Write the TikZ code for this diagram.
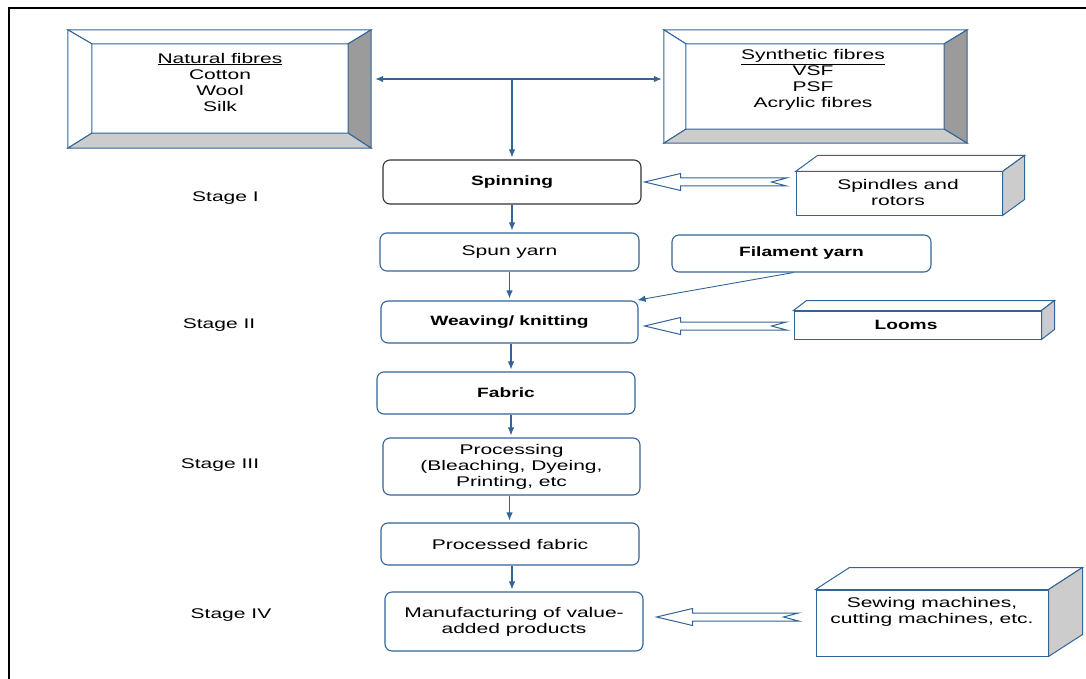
\documentclass[tikz,border=0pt]{standalone}
\usepackage{fontspec}
\usetikzlibrary{arrows.meta,calc}
\newfontfamily\regsans{Liberation Sans}[FakeStretch=1.5]
\newfontfamily\boldsans{Liberation Sans}[FakeStretch=1.42]
\definecolor{bl}{RGB}{50,100,150}
\definecolor{sidegray}{RGB}{204,204,204}
\definecolor{bevelgray}{RGB}{155,155,155}
\newcommand{\bevel}[2]{%
 \filldraw[bevelface, fill=white] (#1.north west) -- (#1.north east) -- (#2.north east) -- (#2.north west) -- cycle;
 \filldraw[bevelface, fill=white] (#1.north west) -- (#2.north west) -- (#2.south west) -- (#1.south west) -- cycle;
 \filldraw[bevelface, fill=bevelgray] (#1.north east) -- (#1.south east) -- (#2.south east) -- (#2.north east) -- cycle;
 \filldraw[bevelface, fill=sidegray] (#1.south west) -- (#2.south west) -- (#2.south east) -- (#1.south east) -- cycle;}
\newcommand{\cuboid}[3]{%
 \filldraw[bevelface, fill=white] (#1.north west) -- ($(#1.north west)+(#2,#3)$) -- ($(#1.north east)+(#2,#3)$) -- (#1.north east) -- cycle;
 \filldraw[bevelface, fill=sidegray] (#1.north east) -- ($(#1.north east)+(#2,#3)$) -- ($(#1.south east)+(#2,#3)$) -- (#1.south east) -- cycle;}
\newcommand{\hollowarrow}[2]{%
 \filldraw[fatarrow] (#1) -- ($(#1)+(36,-8.5)$) -- ($(#1)+(36,-4)$) -- ($(#1 -| #2)+(0,-4)$) -- ($(#1 -| #2)+(-15,0)$) -- ($(#1 -| #2)+(0,4)$) -- ($(#1)+(36,4)$) -- ($(#1)+(36,8.5)$) -- cycle;}
\begin{document}
\begin{tikzpicture}[x=1pt,y=-1pt,
  flowbox/.style={draw=bl, line width=1.1pt, rounded corners=7pt, inner sep=0pt, align=center, fill=white, font={\regsans\fontsize{14}{16}\selectfont}},
  boldtxt/.style={font={\boldsans\bfseries\fontsize{13.5}{16}\selectfont}},
  txt/.style={inner sep=0pt, align=center, font={\regsans\fontsize{14}{16}\selectfont}},
  flowarrow/.style={draw=bl, line width=1.1pt, -{Latex[length=8pt,width=6.5pt]}, shorten >=2pt},
  fatarrow/.style={draw=bl, line width=1pt, fill=white, line join=miter},
  bevelface/.style={draw=bl, line width=1pt, line join=miter},
  frontface/.style={draw=bl, line width=1pt, fill=white, inner sep=0pt},
  pageframe/.style={line width=2pt, draw=black}
]
\useasboundingbox (0,0) rectangle (1086,679);
\draw[pageframe] (1086,8) -- (9,8) -- (9,679);

% top bevel boxes
\node[minimum width=303pt, minimum height=118pt, inner sep=0pt] (natO) at (219.5,89) {};
\node[minimum width=256pt, minimum height=89pt, inner sep=0pt] (natI) at (220,88.5) {};
\bevel{natO}{natI}
\node[txt] (natT) at (220,82) {\underline{Natural fibres}\\Cotton\\Wool\\Silk};

\node[minimum width=303pt, minimum height=113pt, inner sep=0pt] (synO) at (815.5,86.5) {};
\node[minimum width=258pt, minimum height=85pt, inner sep=0pt] (synI) at (815,86.5) {};
\bevel{synO}{synI}
\node[txt] (synT) at (813,80) {\underline{Synthetic fibres}\\VSF\\PSF\\Acrylic fibres};

% main flow
\node[flowbox, boldtxt, draw=black!80, minimum width=258pt, minimum height=44pt] (spin) at (512,182) {Spinning};
\node[flowbox, minimum width=259pt, minimum height=38pt] (spun) at (509.5,252) {Spun yarn};
\node[flowbox, boldtxt, minimum width=259pt, minimum height=37pt] (fil) at (801.5,253.5) {Filament yarn};
\node[flowbox, boldtxt, minimum width=257pt, minimum height=42pt] (weave) at (509.5,322) {Weaving/ knitting};
\node[flowbox, boldtxt, minimum width=258pt, minimum height=42pt] (fab) at (506,393) {Fabric};
\node[flowbox, minimum width=257pt, minimum height=57pt] (proc) at (511.5,466.5) {Processing\\(Bleaching, Dyeing,\\Printing, etc};
\node[flowbox, minimum width=258pt, minimum height=42pt] (pfab) at (510,544) {Processed fabric};
\node[flowbox, minimum width=258pt, minimum height=59pt] (manu) at (514,621.5) {Manufacturing of value-\\added products};

% 3D boxes
\node[frontface, minimum width=206pt, minimum height=43pt] (spind) at (899,193.5) {};
\cuboid{spind}{22}{-16}
\node[txt] (spindT) at (898,192) {Spindles and\\rotors};
\node[frontface, minimum width=247pt, minimum height=28pt] (looms) at (917.5,325) {};
\cuboid{looms}{13}{-10}
\node[txt, boldtxt] (loomsT) at (906,325) {Looms};
\node[frontface, minimum width=232pt, minimum height=66pt] (sew) at (932,623) {};
\cuboid{sew}{34}{-22}
\node[txt] (sewT) at (932,612) {Sewing machines,\\cutting machines, etc.};

% stage labels
\node[txt] (st1) at (225.5,198) {Stage I};
\node[txt] (st2) at (219,325) {Stage II};
\node[txt] (st3) at (220,465) {Stage III};
\node[txt] (st4) at (231,615) {Stage IV};

% connectors
\coordinate (hj) at (512,79);
\draw[flowarrow, {Latex[length=8pt,width=6.5pt]}-{Latex[length=8pt,width=6.5pt]}, shorten <=4pt, shorten >=2pt] (natO.east |- hj) -- (synO.west |- hj);
\draw[flowarrow] (hj) -- (hj |- spin.north);
\draw[flowarrow] (spin.south) -- (spin.south |- spun.north);
\draw[flowarrow] (spun.south) -- (spun.south |- weave.north);
\draw[flowarrow] ([xshift=1.5pt]weave.south) -- ([xshift=1.5pt]weave.south |- fab.north);
\draw[flowarrow] ([xshift=5pt]fab.south) -- ([xshift=5pt]fab.south |- proc.north);
\draw[flowarrow] ([xshift=-2pt]proc.south) -- ([xshift=-2pt]proc.south |- pfab.north);
\draw[flowarrow] ([xshift=2pt]pfab.south) -- ([xshift=2pt]pfab.south |- manu.north);
\draw[flowarrow, line width=0.9pt] ([xshift=-8pt]fil.south) -- ([xshift=-3pt]weave.north east);

\coordinate (h1tip) at ([xshift=3pt]spin.east);
\coordinate (h1tail) at ([xshift=-9pt]spind.west);
\hollowarrow{h1tip}{h1tail}
\coordinate (h2tip) at ([xshift=6pt,yshift=-4pt]weave.east);
\coordinate (h2tail) at ([xshift=-7pt]looms.west);
\hollowarrow{h2tip}{h2tail}
\coordinate (h3tip) at ([xshift=13pt,yshift=4.5pt]manu.east);
\coordinate (h3tail) at ([xshift=-17pt]sew.west);
\hollowarrow{h3tip}{h3tail}
\end{tikzpicture}
\end{document}
